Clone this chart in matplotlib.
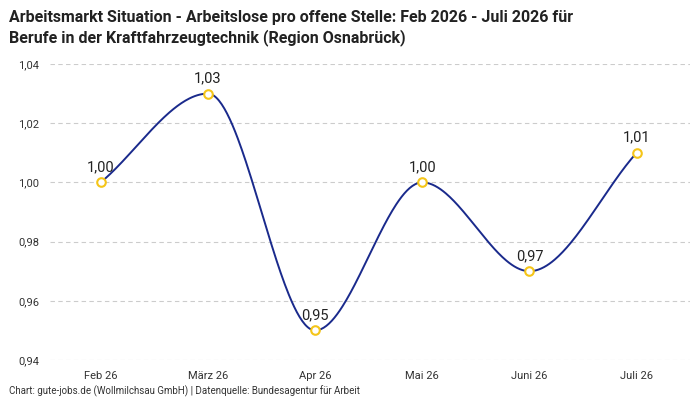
import numpy as np
import matplotlib
matplotlib.use("Agg")
import matplotlib.pyplot as plt

plt.rcParams['font.family'] = ['Roboto', 'DejaVu Sans']

months = ["Feb 26", "März 26", "Apr 26", "Mai 26", "Juni 26", "Juli 26"]
values = [1.00, 1.03, 0.95, 1.00, 0.97, 1.01]
yticks = [0.94, 0.96, 0.98, 1.00, 1.02, 1.04]

def pchip(x, y, xs):
    x = np.asarray(x, float); y = np.asarray(y, float)
    h = np.diff(x); d = np.diff(y) / h
    m = np.zeros_like(y)
    for k in range(1, len(y) - 1):
        if d[k-1] * d[k] > 0:
            w1 = 2*h[k] + h[k-1]; w2 = h[k] + 2*h[k-1]
            m[k] = (w1 + w2) / (w1/d[k-1] + w2/d[k])
    m[0] = d[0]; m[-1] = d[-1]
    out = []
    for xv in xs:
        k = min(np.searchsorted(x, xv, side="right") - 1, len(x) - 2)
        t = (xv - x[k]) / h[k]
        h00 = 2*t**3 - 3*t**2 + 1; h10 = t**3 - 2*t**2 + t
        h01 = -2*t**3 + 3*t**2; h11 = t**3 - t**2
        out.append(h00*y[k] + h10*h[k]*m[k] + h01*y[k+1] + h11*h[k]*m[k+1])
    return np.array(out)

fig = plt.figure(figsize=(7, 4), dpi=100)
ax = fig.add_axes([0.072, 0.1, 0.914, 0.74])
x = np.arange(len(values))
xs = np.linspace(0, len(values) - 1, 400)
ax.plot(xs, pchip(x, values, xs), color="#1a2a8c", lw=1.4, zorder=2)
ax.scatter(x, values, s=38, facecolor="white", edgecolor="#f5c518", lw=1.5, zorder=3)
for xi, v in zip(x, values):
    ax.annotate(f"{v:.2f}".replace(".", ","), (xi, v), xytext=(0, 6), textcoords="offset points",
                ha="center", va="bottom", fontsize=10.5, color="#222")
ax.set_xlim(-0.47, 5.5)
ax.set_ylim(0.94, 1.04)
ax.set_yticks(yticks)
ax.set_yticklabels([f"{t:.2f}".replace(".", ",") for t in yticks], fontsize=8, color="#333")
ax.set_xticks(x)
ax.set_xticklabels(months, fontsize=8, color="#333")
ax.grid(axis="y", ls=(0, (4, 3)), color="#cccccc", lw=0.8)
for s in ax.spines.values():
    s.set_visible(False)
ax.tick_params(length=0, pad=8)
fig.text(0.013, 0.975, "Arbeitsmarkt Situation - Arbeitslose pro offene Stelle: Feb 2026 - Juli 2026 für\nBerufe in der Kraftfahrzeugtechnik (Region Osnabrück)",
         fontsize=11.5, fontweight="bold", va="top", ha="left", color="#222", linespacing=1.3)
fig.text(0.013, 0.015, "Chart: gute-jobs.de (Wollmilchsau GmbH) | Datenquelle: Bundesagentur für Arbeit",
         fontsize=7, color="#333")
fig.savefig("out.png")
